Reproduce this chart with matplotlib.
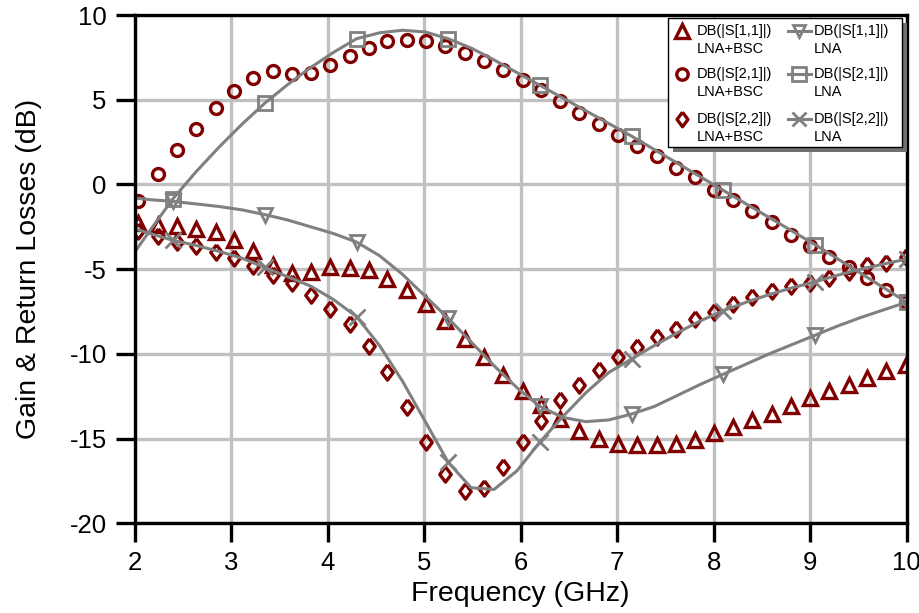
import numpy as np
import matplotlib.pyplot as plt
from matplotlib.patches import Rectangle

plt.rcParams['font.family'] = ['Liberation Sans', 'DejaVu Sans']
plt.rcParams['axes.unicode_minus'] = False

# sweep points of the LNA+BSC traces (GHz)
freq = [2.04, 2.24, 2.44, 2.64, 2.84, 3.03, 3.23, 3.43, 3.63, 3.83,
        4.03, 4.23, 4.43, 4.62, 4.82, 5.02, 5.22, 5.42, 5.62, 5.82,
        6.02, 6.21, 6.41, 6.61, 6.81, 7.01, 7.21, 7.41, 7.61, 7.81,
        8.00, 8.20, 8.40, 8.60, 8.80, 9.00, 9.20, 9.40, 9.59, 9.79, 9.99]

s11_bsc = [-2.25, -2.38, -2.48, -2.61, -2.83, -3.27, -3.92, -4.75, -5.25, -5.15,
           -4.85, -4.91, -5.05, -5.59, -6.24, -7.07, -8.06, -9.11, -10.16, -11.25,
           -12.18, -13.01, -13.83, -14.56, -15.01, -15.29, -15.35, -15.38, -15.29, -15.11,
           -14.66, -14.30, -13.90, -13.53, -13.07, -12.58, -12.18, -11.82, -11.43, -11.03, -10.64]

s21_bsc = [-0.95, 0.64, 2.02, 3.27, 4.50, 5.50, 6.28, 6.67, 6.54, 6.58,
           7.03, 7.58, 8.08, 8.44, 8.52, 8.46, 8.18, 7.78, 7.31, 6.77,
           6.18, 5.55, 4.93, 4.22, 3.58, 2.91, 2.28, 1.65, 0.99, 0.44,
           -0.30, -0.89, -1.58, -2.22, -3.01, -3.62, -4.26, -4.85, -5.54, -6.24, -6.93]

s22_bsc = [-2.77, -3.03, -3.37, -3.66, -3.96, -4.36, -4.81, -5.35, -5.84, -6.54,
           -7.33, -8.26, -9.51, -11.09, -13.11, -15.19, -17.09, -18.12, -17.92, -16.70,
           -15.19, -13.96, -12.73, -11.82, -10.93, -10.20, -9.62, -9.03, -8.51, -7.96,
           -7.53, -7.03, -6.64, -6.30, -6.00, -5.80, -5.51, -5.15, -4.75, -4.62, -4.26]

# LNA alone traces (GHz)
freq_lna = [2.0, 2.1625, 2.4, 2.6375, 2.875, 3.1125, 3.35, 3.5875, 3.825, 4.0625,
            4.3, 4.5375, 4.775, 5.0125, 5.25, 5.4875, 5.725, 5.9625, 6.2, 6.4375,
            6.675, 6.9125, 7.15, 7.3875, 7.625, 7.8625, 8.1, 8.3375, 8.575, 8.8125,
            9.05, 9.2875, 9.525, 9.7625, 10.0]

s11_lna = [-0.8, -0.9, -1.0, -1.15, -1.3, -1.5, -1.78, -2.1, -2.5, -2.9,
           -3.4, -4.2, -5.3, -6.6, -7.9, -9.3, -10.7, -12.0, -13.1, -13.75,
           -14.0, -13.9, -13.55, -13.1, -12.45, -11.8, -11.2, -10.6, -10.0, -9.45,
           -8.9, -8.35, -7.85, -7.4, -6.95]

s21_lna = [-4.0, -2.7, -0.83, 0.75, 2.2, 3.55, 4.8, 5.9, 6.9, 7.8,
           8.6, 8.95, 9.1, 9.0, 8.6, 8.05, 7.35, 6.6, 5.85, 5.1,
           4.35, 3.6, 2.85, 2.05, 1.25, 0.45, -0.35, -1.15, -1.95, -2.75,
           -3.55, -4.4, -5.25, -6.1, -6.95]

s22_lna = [-2.6, -2.9, -3.3, -3.6, -3.95, -4.35, -4.9, -5.45, -6.0, -6.8,
           -7.8, -9.5, -11.6, -14.0, -16.4, -17.9, -18.0, -16.9, -15.2, -13.7,
           -12.3, -11.1, -10.3, -9.5, -8.75, -8.05, -7.45, -6.95, -6.5, -6.1,
           -5.75, -5.35, -5.0, -4.7, -4.4]

red = '#800000'
gray = '#808080'
diamond = [(0, 1), (0.75, 0), (0, -1), (-0.75, 0), (0, 1)]

fig = plt.figure(figsize=(9.19, 6.13), dpi=100)
ax = fig.add_axes([0.1464, 0.1463, 0.8402, 0.8292])

ax.plot(freq, s11_bsc, linestyle='none', marker='^', ms=10.5, mfc='none', mec=red, mew=2.4)
ax.plot(freq, s21_bsc, linestyle='none', marker='o', ms=8.6, mfc='none', mec=red, mew=2.4)
ax.plot(freq, s22_bsc, linestyle='none', marker=diamond, ms=11, mfc='none', mec=red, mew=2.4)

every = slice(2, None, 4)
ax.plot(freq_lna, s11_lna, color=gray, lw=2.2, marker='v', ms=10, mfc='none', mew=2.0, markevery=every)
ax.plot(freq_lna, s21_lna, color=gray, lw=2.2, marker='s', ms=10, mfc='none', mew=2.0, markevery=every)
ax.plot(freq_lna, s22_lna, color=gray, lw=2.2, marker='x', ms=11, mew=2.0, markevery=every)

ax.set_xlim(2, 10)
ax.set_ylim(-20, 10)
ax.set_xticks([2, 3, 4, 5, 6, 7, 8, 9, 10])
ax.set_yticks([-20, -15, -10, -5, 0, 5, 10])
ax.grid(True, color='#c0c0c0', lw=2.4)
ax.set_axisbelow(True)
for sp in ax.spines.values():
    sp.set_linewidth(2.4)
    sp.set_color('black')
ax.tick_params(direction='out', length=14, width=2.4, labelsize=18.5, pad=6)
ax.set_xlabel('Frequency (GHz)', fontsize=20.5, labelpad=4)
ax.set_ylabel('Gain & Return Losses (dB)', fontsize=20.5, labelpad=20)

# legend drawn by hand: marker next to the first text line
T = ax.transAxes
x0, y0, w, h = 0.6905, 0.7409, 0.303, 0.2526
ax.add_patch(Rectangle((x0 + 0.0065, y0 - 0.0098), w, h, transform=T, facecolor='#707070',
                       edgecolor='none', clip_on=False, zorder=5))
ax.add_patch(Rectangle((x0, y0), w, h, transform=T, facecolor='white',
                       edgecolor='black', lw=1.0, clip_on=False, zorder=6))
rows = [0.9685, 0.8833, 0.7954]
dy = 0.0345
left = [('^', 10, 'DB(|S[1,1]|)'), ('o', 8.2, 'DB(|S[2,1]|)'), (diamond, 10.5, 'DB(|S[2,2]|)')]
right = [('v', 9, 'DB(|S[1,1]|)'), ('s', 9.5, 'DB(|S[2,1]|)'), ('x', 10, 'DB(|S[2,2]|)')]
for yr, (m, s, lab) in zip(rows, left):
    ax.plot([0.7087], [yr], transform=T, marker=m, ms=s, mfc='none', mec=red, mew=2.4,
            linestyle='none', clip_on=False, zorder=7)
    ax.text(0.7280, yr, lab, transform=T, fontsize=10.5, va='center', zorder=7)
    ax.text(0.7280, yr - dy, 'LNA+BSC', transform=T, fontsize=10.5, va='center', zorder=7)
for yr, (m, s, lab) in zip(rows, right):
    ax.plot([0.8460, 0.8760], [yr, yr], transform=T, color=gray, lw=2.2, clip_on=False, zorder=7)
    ax.plot([0.8610], [yr], transform=T, marker=m, ms=s, mfc='none', mec=gray, mew=2.0,
            linestyle='none', clip_on=False, zorder=7)
    ax.text(0.8795, yr, lab, transform=T, fontsize=10.5, va='center', zorder=7)
    ax.text(0.8795, yr - dy, 'LNA', transform=T, fontsize=10.5, va='center', zorder=7)

fig.savefig('out.png', dpi=100)
